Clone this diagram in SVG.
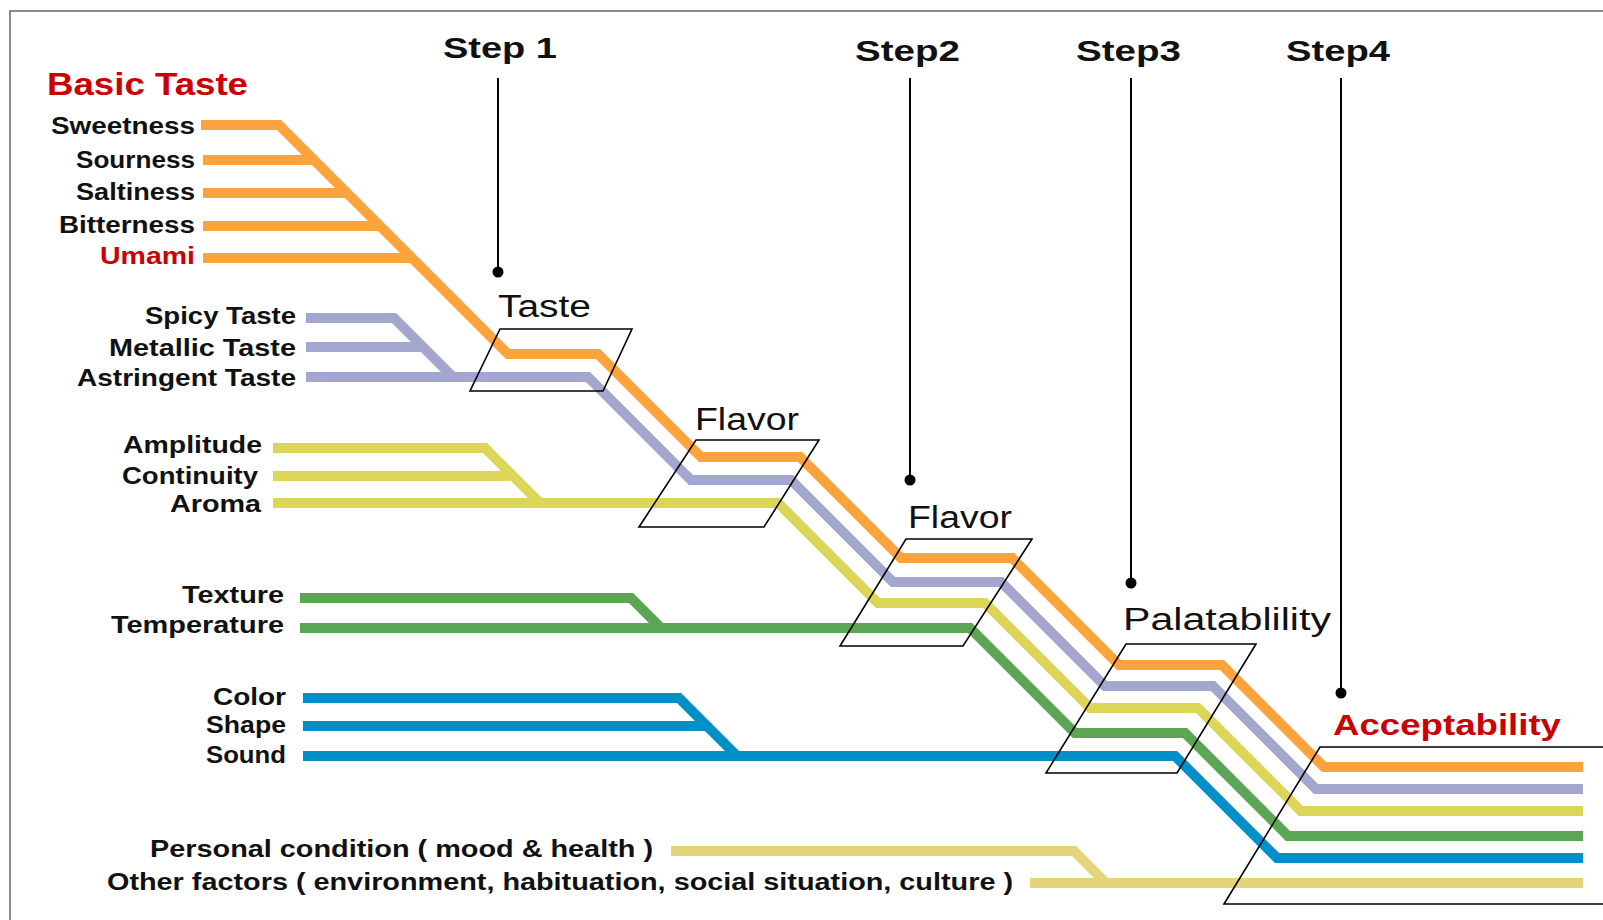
<svg xmlns="http://www.w3.org/2000/svg" width="1603" height="920" viewBox="0 0 1603 920">
<style>
.ln{fill:none;stroke-width:10;stroke-linejoin:miter;stroke-linecap:butt}
.or{stroke:#FCA33D}.lv{stroke:#A3A6CD}.ye{stroke:#DDD558}.gr{stroke:#5BA554}.bl{stroke:#008FC6}.tn{stroke:#E4D47A}
.box{fill:none;stroke:#000;stroke-width:1.6}
.ptr{stroke:#000;stroke-width:2}
.lab{font-family:"Liberation Sans",Arial,sans-serif;font-weight:bold;font-size:23px;fill:#111;text-anchor:end}
.step{font-family:"Liberation Sans",Arial,sans-serif;font-weight:bold;font-size:30px;fill:#111}
.node{font-family:"Liberation Sans",Arial,sans-serif;font-size:31px;fill:#111}
text.red{fill:#CC0000}
</style>
<rect width="1603" height="920" fill="#fff"/>
<path d="M10,920 V11 H1603" fill="none" stroke="#666" stroke-width="1.5"/>

<g id="connectors">
  <path class="ln or" d="M201,125 H279 L508,354 H598 L701,457 H800 L901,558 H1012 L1119,665 H1222 L1324,767 H1583"/>
  <path class="ln or" d="M203,160 H314"/>
  <path class="ln or" d="M203,193 H347"/>
  <path class="ln or" d="M203,226 H380"/>
  <path class="ln or" d="M203,258 H412"/>
  <path class="ln lv" d="M306,377 H588 L691,480 H791 L893,582 H1001 L1105,686 H1213 L1316,789 H1583"/>
  <path class="ln lv" d="M306,318 H394 L453,377"/>
  <path class="ln lv" d="M306,347 H423"/>
  <path class="ln ye" d="M273,503 H778 L878,603 H985 L1090,708 H1198 L1301,811 H1583"/>
  <path class="ln ye" d="M273,448 H485 L540,503"/>
  <path class="ln ye" d="M273,476 H513"/>
  <path class="ln gr" d="M300,628 H970 L1075,733 H1185 L1288,836 H1583"/>
  <path class="ln gr" d="M300,598 H631 L661,628"/>
  <path class="ln bl" d="M303,756 H1175 L1277,858 H1583"/>
  <path class="ln bl" d="M303,698 H679 L737,756"/>
  <path class="ln bl" d="M303,726 H707"/>
  <path class="ln tn" d="M671,851 H1074 L1106,883"/>
  <path class="ln tn" d="M1030,883 H1583"/>
</g>

<g id="labels-basic">
  <text x="47" y="95" class="step red" style="font-size:31px" textLength="201" lengthAdjust="spacingAndGlyphs">Basic Taste</text>
  <text x="195" y="134" class="lab" textLength="144" lengthAdjust="spacingAndGlyphs">Sweetness</text>
  <text x="195" y="168" class="lab" textLength="119" lengthAdjust="spacingAndGlyphs">Sourness</text>
  <text x="195" y="200" class="lab" textLength="119" lengthAdjust="spacingAndGlyphs">Saltiness</text>
  <text x="195" y="233" class="lab" textLength="136" lengthAdjust="spacingAndGlyphs">Bitterness</text>
  <text x="195" y="264" class="lab red" textLength="95" lengthAdjust="spacingAndGlyphs">Umami</text>
</g>
<g id="labels-other-taste">
  <text x="296" y="324" class="lab" textLength="151" lengthAdjust="spacingAndGlyphs">Spicy Taste</text>
  <text x="296" y="356" class="lab" textLength="187" lengthAdjust="spacingAndGlyphs">Metallic Taste</text>
  <text x="296" y="386" class="lab" textLength="219" lengthAdjust="spacingAndGlyphs">Astringent Taste</text>
</g>
<g id="labels-aroma">
  <text x="262" y="453" class="lab" textLength="139" lengthAdjust="spacingAndGlyphs">Amplitude</text>
  <text x="258" y="484" class="lab" textLength="136" lengthAdjust="spacingAndGlyphs">Continuity</text>
  <text x="261" y="512" class="lab" textLength="91" lengthAdjust="spacingAndGlyphs">Aroma</text>
</g>
<g id="labels-texture">
  <text x="284" y="603" class="lab" textLength="102" lengthAdjust="spacingAndGlyphs">Texture</text>
  <text x="284" y="633" class="lab" textLength="173" lengthAdjust="spacingAndGlyphs">Temperature</text>
</g>
<g id="labels-appearance">
  <text x="286" y="705" class="lab" textLength="73" lengthAdjust="spacingAndGlyphs">Color</text>
  <text x="286" y="733" class="lab" textLength="80" lengthAdjust="spacingAndGlyphs">Shape</text>
  <text x="286" y="763" class="lab" textLength="80" lengthAdjust="spacingAndGlyphs">Sound</text>
</g>
<g id="labels-factors">
  <text x="653" y="857" class="lab" textLength="503" lengthAdjust="spacingAndGlyphs">Personal condition ( mood &amp; health )</text>
  <text x="1013" y="890" class="lab" textLength="906" lengthAdjust="spacingAndGlyphs">Other factors ( environment, habituation, social situation, culture )</text>
</g>

<g id="step1">
  <text x="443" y="58" class="step" textLength="114" lengthAdjust="spacingAndGlyphs">Step 1</text>
  <line class="ptr" x1="498" y1="78" x2="498" y2="272"/>
  <circle cx="498" cy="272" r="5.5"/>
</g>
<g id="step2">
  <text x="855" y="61" class="step" textLength="105" lengthAdjust="spacingAndGlyphs">Step2</text>
  <line class="ptr" x1="910" y1="78" x2="910" y2="480"/>
  <circle cx="910" cy="480" r="5.5"/>
</g>
<g id="step3">
  <text x="1076" y="61" class="step" textLength="105" lengthAdjust="spacingAndGlyphs">Step3</text>
  <line class="ptr" x1="1131" y1="78" x2="1131" y2="583"/>
  <circle cx="1131" cy="583" r="5.5"/>
</g>
<g id="step4">
  <text x="1286" y="61" class="step" textLength="104" lengthAdjust="spacingAndGlyphs">Step4</text>
  <line class="ptr" x1="1341" y1="78" x2="1341" y2="693"/>
  <circle cx="1341" cy="693" r="5.5"/>
</g>

<g id="node-taste">
  <path class="box" d="M500,329 H632 L603,391 H470 Z"/>
  <text x="498" y="317" class="node" textLength="93" lengthAdjust="spacingAndGlyphs">Taste</text>
</g>
<g id="node-flavor1">
  <path class="box" d="M696,440 H819 L764,527 H639 Z"/>
  <text x="695" y="430" class="node" textLength="104" lengthAdjust="spacingAndGlyphs">Flavor</text>
</g>
<g id="node-flavor2">
  <path class="box" d="M906,539 H1032 L963,646 H840 Z"/>
  <text x="908" y="528" class="node" textLength="104" lengthAdjust="spacingAndGlyphs">Flavor</text>
</g>
<g id="node-palatability">
  <path class="box" d="M1126,644 H1256 L1177,773 H1046 Z"/>
  <text x="1123" y="630" class="node" textLength="208" lengthAdjust="spacingAndGlyphs">Palatablility</text>
</g>
<g id="node-acceptability">
  <path class="box" d="M1603,747 H1320 L1224,904 H1603"/>
  <text x="1333" y="735" class="step red" textLength="228" lengthAdjust="spacingAndGlyphs">Acceptability</text>
</g>
</svg>
